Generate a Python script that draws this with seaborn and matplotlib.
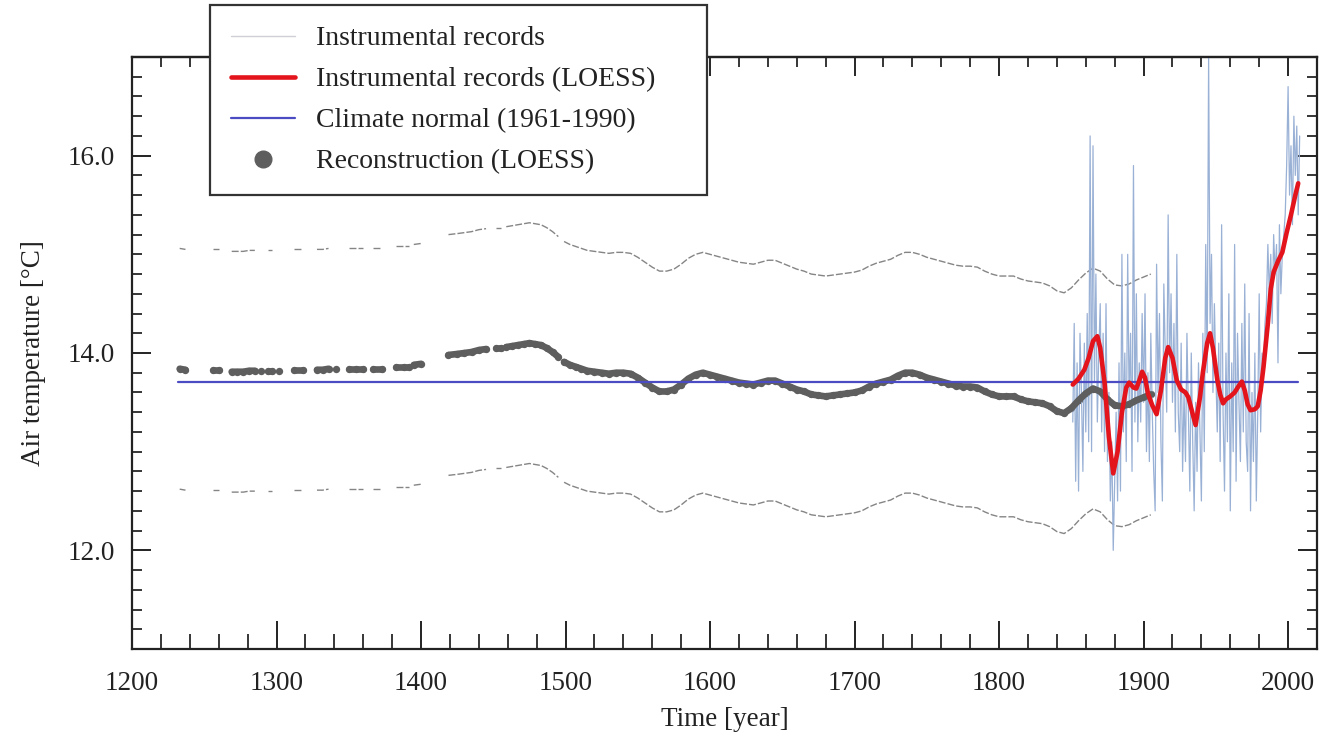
import numpy as np
import pandas as pd
import matplotlib
matplotlib.use("Agg")
import matplotlib.pyplot as plt
from matplotlib.lines import Line2D
from matplotlib.ticker import MultipleLocator, FormatStrFormatter, FixedLocator
import seaborn as sns

# ---------------- data ----------------
# Reconstruction (LOESS): segments separated by gaps in the record
recon_seg = ([0]*2 + [1]*2 + [2]*5 + [3] + [4]*2 + [5] + [6]*2 + [7]*3 + [8] + [9]*3 + [10]*2
             + [11]*3 + [12]*2 + [13]*6 + [14]*2 + [15]*10 + [16]*83)
recon_year = [1233, 1237,
              1256, 1260,
              1269, 1273, 1277, 1281, 1285,
              1289,
              1294, 1297,
              1302,
              1312, 1318,
              1328, 1332, 1336,
              1341,
              1350, 1355, 1360,
              1367, 1373,
              1383, 1388, 1392,
              1395, 1400,
              1419, 1425, 1430, 1435, 1440, 1445,
              1452, 1455,
              1459, 1463, 1467, 1471, 1475, 1479, 1483, 1487, 1491, 1495,
              1499, 1503, 1507, 1511, 1515, 1520, 1525, 1530, 1535, 1540, 1545, 1550, 1555, 1560,
              1565, 1570, 1575, 1580, 1585, 1590, 1595, 1600, 1605, 1610, 1615, 1620, 1625, 1630,
              1635, 1640, 1645, 1650, 1655, 1660, 1665, 1670, 1675, 1680, 1685, 1690, 1695, 1700,
              1705, 1710, 1715, 1720, 1725, 1730, 1735, 1740, 1745, 1750, 1755, 1760, 1765, 1770,
              1775, 1780, 1785, 1790, 1795, 1800, 1805, 1810, 1815, 1820, 1825, 1830, 1835, 1840,
              1845, 1850, 1855, 1860, 1865, 1870, 1875, 1880, 1885, 1890, 1895, 1900, 1905]
recon_temp = [13.84, 13.83,
              13.83, 13.83,
              13.81, 13.81, 13.81, 13.82, 13.82,
              13.82,
              13.82, 13.82,
              13.82,
              13.83, 13.83,
              13.83, 13.83, 13.84,
              13.84,
              13.84, 13.84, 13.84,
              13.84, 13.84,
              13.86, 13.86, 13.86,
              13.88, 13.89,
              13.98, 13.99, 14.00, 14.01, 14.03, 14.04,
              14.05, 14.05,
              14.06, 14.07, 14.08, 14.09, 14.10, 14.09, 14.08, 14.05, 14.01, 13.96,
              13.91, 13.88, 13.86, 13.84, 13.82, 13.81, 13.80, 13.79, 13.80, 13.80, 13.79, 13.75, 13.70, 13.65,
              13.61, 13.61, 13.63, 13.68, 13.74, 13.78, 13.80, 13.78, 13.76, 13.74, 13.72, 13.70, 13.69, 13.68,
              13.70, 13.72, 13.72, 13.69, 13.66, 13.63, 13.61, 13.58, 13.57, 13.56, 13.57, 13.58, 13.59, 13.60,
              13.62, 13.66, 13.69, 13.71, 13.73, 13.77, 13.80, 13.80, 13.78, 13.75, 13.73, 13.71, 13.69, 13.67,
              13.66, 13.66, 13.65, 13.61, 13.58, 13.56, 13.56, 13.56, 13.53, 13.51, 13.50, 13.49, 13.46, 13.41,
              13.39, 13.44, 13.52, 13.59, 13.64, 13.61, 13.53, 13.47, 13.46, 13.48, 13.52, 13.55, 13.58]
upper_temp = [15.06, 15.05,
              15.05, 15.05,
              15.03, 15.03, 15.03, 15.04, 15.04,
              15.04,
              15.04, 15.04,
              15.04,
              15.05, 15.05,
              15.05, 15.05, 15.06,
              15.06,
              15.06, 15.06, 15.06,
              15.06, 15.06,
              15.08, 15.08, 15.08,
              15.10, 15.11,
              15.20, 15.21, 15.22, 15.23, 15.25, 15.26,
              15.27, 15.27,
              15.28, 15.29, 15.30, 15.31, 15.32, 15.31, 15.30, 15.27, 15.23, 15.18,
              15.13, 15.10, 15.08, 15.06, 15.04, 15.03, 15.02, 15.01, 15.02, 15.02, 15.01, 14.97, 14.92, 14.87,
              14.83, 14.83, 14.85, 14.90, 14.96, 15.00, 15.02, 15.00, 14.98, 14.96, 14.94, 14.92, 14.91, 14.90,
              14.92, 14.94, 14.94, 14.91, 14.88, 14.85, 14.83, 14.80, 14.79, 14.78, 14.79, 14.80, 14.81, 14.82,
              14.84, 14.88, 14.91, 14.93, 14.95, 14.99, 15.02, 15.02, 15.00, 14.97, 14.95, 14.93, 14.91, 14.89,
              14.88, 14.88, 14.87, 14.83, 14.80, 14.78, 14.78, 14.78, 14.75, 14.73, 14.72, 14.71, 14.68, 14.63,
              14.61, 14.66, 14.74, 14.81, 14.86, 14.83, 14.75, 14.69, 14.68, 14.70, 14.74, 14.77, 14.80]
lower_temp = [12.62, 12.61,
              12.61, 12.61,
              12.59, 12.59, 12.59, 12.60, 12.60,
              12.60,
              12.60, 12.60,
              12.60,
              12.61, 12.61,
              12.61, 12.61, 12.62,
              12.62,
              12.62, 12.62, 12.62,
              12.62, 12.62,
              12.64, 12.64, 12.64,
              12.66, 12.67,
              12.76, 12.77, 12.78, 12.79, 12.81, 12.82,
              12.83, 12.83,
              12.84, 12.85, 12.86, 12.87, 12.88, 12.87, 12.86, 12.83, 12.79, 12.74,
              12.69, 12.66, 12.64, 12.62, 12.60, 12.59, 12.58, 12.57, 12.58, 12.58, 12.57, 12.53, 12.48, 12.43,
              12.39, 12.39, 12.41, 12.46, 12.52, 12.56, 12.58, 12.56, 12.54, 12.52, 12.50, 12.48, 12.47, 12.46,
              12.48, 12.50, 12.50, 12.47, 12.44, 12.41, 12.39, 12.36, 12.35, 12.34, 12.35, 12.36, 12.37, 12.38,
              12.40, 12.44, 12.47, 12.49, 12.51, 12.55, 12.58, 12.58, 12.56, 12.53, 12.51, 12.49, 12.47, 12.45,
              12.44, 12.44, 12.43, 12.39, 12.36, 12.34, 12.34, 12.34, 12.31, 12.29, 12.28, 12.27, 12.24, 12.19,
              12.17, 12.22, 12.30, 12.37, 12.42, 12.39, 12.31, 12.25, 12.24, 12.26, 12.30, 12.33, 12.36]

# Instrumental records (annual), 1851-2008
instr_year = list(range(1851, 2009))
instr_temp = [13.3, 14.3, 12.7, 13.9, 12.6, 14.2, 13.6, 12.8, 14.1, 13.2,
              14.4, 13.1, 16.2, 13.0, 16.1, 13.7, 14.8, 13.3, 14.0, 14.5,
              13.2, 14.2, 13.0, 14.5, 12.9, 13.6, 12.5, 13.1, 12.0, 12.7,
              13.4, 12.5, 13.9, 12.6, 15.0, 13.2, 14.0, 12.9, 15.0, 13.5,
              14.2, 12.8, 15.9, 13.3, 14.6, 13.1, 13.9, 13.3, 14.4, 13.5,
              14.6, 13.0, 13.8, 12.9, 14.2, 13.4, 12.8, 12.4, 14.9, 13.6,
              14.4, 13.1, 12.5, 14.7, 14.0, 13.4, 15.4, 13.8, 14.6, 13.5,
              14.3, 13.2, 15.0, 13.4, 13.0, 14.1, 12.8, 13.6, 12.9, 14.2,
              13.4, 12.6, 14.0, 13.1, 12.4, 13.5, 12.8, 13.9, 13.2, 12.5,
              14.2, 13.0, 15.1, 13.8, 17.0, 14.3, 15.0, 13.6, 14.5, 13.8,
              13.2, 14.1, 12.9, 15.3, 13.4, 12.6, 14.0, 13.1, 14.6, 12.4,
              13.9, 13.0, 15.1, 12.7, 14.2, 13.5, 12.9, 14.3, 13.2, 14.7,
              13.1, 12.8, 14.4, 12.4, 13.6, 12.9, 14.0, 12.5, 13.4, 14.6,
              13.2, 14.0, 13.9, 14.3, 14.5, 15.1, 14.6, 15.0, 14.3, 15.2,
              14.8, 15.1, 13.9, 15.3, 14.6, 15.0, 15.2, 15.4, 15.9, 16.7,
              15.6, 16.1, 15.3, 16.4, 15.8, 16.3, 15.4, 16.2]

# Instrumental records (LOESS)
loess_year = [1851, 1855, 1859, 1862, 1865, 1868, 1870, 1873, 1876, 1879, 1882, 1885, 1888, 1890,
              1893, 1895, 1897, 1899, 1901, 1903, 1906, 1909, 1912, 1915, 1917, 1920, 1923, 1926,
              1929, 1931, 1934, 1936, 1939, 1941, 1944, 1946, 1948, 1951, 1953, 1955, 1957, 1960,
              1963, 1966, 1968, 1970, 1972, 1974, 1977, 1979, 1981, 1983, 1986, 1988, 1990, 1993,
              1996, 1999, 2002, 2005, 2007]
loess_temp = [13.68, 13.74, 13.83, 13.95, 14.12, 14.17, 14.05, 13.70, 13.15, 12.78, 13.00, 13.40, 13.65, 13.70,
              13.65, 13.64, 13.72, 13.81, 13.75, 13.59, 13.47, 13.38, 13.62, 13.95, 14.06, 13.95, 13.72, 13.63,
              13.60, 13.55, 13.38, 13.27, 13.55, 13.80, 14.10, 14.20, 14.05, 13.73, 13.58, 13.49, 13.53, 13.56,
              13.60, 13.67, 13.71, 13.62, 13.48, 13.42, 13.43, 13.46, 13.62, 13.86, 14.30, 14.65, 14.82, 14.93,
              15.02, 15.22, 15.40, 15.60, 15.72]

# Climate normal (1961-1990)
normal_year = [1232, 2007]
normal_temp = [13.71, 13.71]

labels = ["Instrumental records", "Instrumental records (LOESS)",
          "Climate normal (1961-1990)", "Reconstruction (LOESS)"]

# ---------------- plot ----------------
sns.set_theme(style="ticks")
plt.rcParams['font.family'] = ['Liberation Serif', 'DejaVu Serif']

fig = plt.figure(figsize=(13.36, 7.33), dpi=100)
ax = fig.add_axes([132/1336, 1-649/733, (1317-132)/1336, (649-57)/733])

rec = pd.DataFrame({"year": recon_year, "temp": recon_temp, "upper": upper_temp,
                    "lower": lower_temp, "seg": recon_seg})
ins = pd.DataFrame({"year": instr_year, "temp": instr_temp})
loe = pd.DataFrame({"year": loess_year, "temp": loess_temp})
nor = pd.DataFrame({"year": normal_year, "temp": normal_temp})

gray_band = "#858585"
gray_rec = "#5e5e5e"
blue_instr = "#9ab1d6"
red = "#e3141b"
blue_norm = "#4b4bc4"

# uncertainty bands
for col in ["upper", "lower"]:
    sns.lineplot(data=rec, x="year", y=col, units="seg", estimator=None, ax=ax,
                 color=gray_band, lw=1.0, dashes=False, linestyle=(0, (5, 1.5)), legend=False)

# instrumental annual series
sns.lineplot(data=ins, x="year", y="temp", estimator=None, ax=ax, color=blue_instr, lw=0.9,
             legend=False)

# reconstruction
sns.lineplot(data=rec, x="year", y="temp", units="seg", estimator=None, ax=ax,
             color=gray_rec, lw=4.8, legend=False, solid_capstyle="round")
sns.scatterplot(data=rec, x="year", y="temp", ax=ax, color=gray_rec, s=28, linewidth=0,
                legend=False)

# climate normal
sns.lineplot(data=nor, x="year", y="temp", estimator=None, ax=ax, color=blue_norm, lw=1.6,
             legend=False)

# instrumental LOESS
sns.lineplot(data=loe, x="year", y="temp", estimator=None, ax=ax, color=red, lw=3.3,
             legend=False, solid_capstyle="round", solid_joinstyle="round")

ax.set_xlim(1200, 2020)
ax.set_ylim(11, 17)
ax.xaxis.set_major_locator(MultipleLocator(100))
ax.xaxis.set_minor_locator(MultipleLocator(20))
ax.yaxis.set_major_locator(FixedLocator([12, 14, 16]))
ax.yaxis.set_minor_locator(MultipleLocator(0.2))
ax.yaxis.set_major_formatter(FormatStrFormatter("%.1f"))

for s in ax.spines.values():
    s.set_visible(True)
    s.set_linewidth(1.6)
    s.set_color("#222222")

ax.tick_params(axis="x", which="major", direction="in", length=20, width=1.4,
               top=False, bottom=True, labelsize=19.5, pad=16, colors="#222222")
ax.tick_params(axis="x", which="minor", direction="in", length=11, width=1.3,
               top=False, bottom=True)
ax.tick_params(axis="y", which="major", direction="in", length=14, width=1.4,
               left=True, right=True, labelsize=19.5, pad=12, colors="#222222")
ax.tick_params(axis="y", which="minor", direction="in", length=7, width=1.3,
               left=True, right=True)

sec = ax.secondary_xaxis("top")
sec.xaxis.set_major_locator(MultipleLocator(100))
sec.xaxis.set_minor_locator(MultipleLocator(20))
sec.tick_params(which="major", direction="in", length=14, width=1.4, labeltop=False)
sec.tick_params(which="minor", direction="in", length=7, width=1.3)
sec.spines["top"].set_linewidth(1.6)

ax.set_xlabel("Time [year]", fontsize=19.5, labelpad=8, color="#222222")
ax.set_ylabel("Air temperature [°C]", fontsize=19.5, labelpad=16, color="#222222")

handles = [Line2D([], [], color="#cfcfd6", lw=1.0),
           Line2D([], [], color=red, lw=3.3),
           Line2D([], [], color=blue_norm, lw=1.6),
           Line2D([], [], color=gray_rec, lw=0, marker="o", markersize=12)]
leg_w = (707 - 210) / 1336
leg_h = (197 - 5) / 733
leg = fig.legend(handles, labels, loc="upper left",
                 bbox_to_anchor=(210/1336, 1-197/733, leg_w, leg_h), mode="expand",
                 frameon=True, fancybox=False, fontsize=20, handlelength=2.3,
                 handletextpad=0.75, labelspacing=0.56, borderpad=0.75, borderaxespad=0,
                 framealpha=1)
leg.get_frame().set_edgecolor("#333333")
leg.get_frame().set_linewidth(1.6)
for t in leg.get_texts():
    t.set_color("#222222")

fig.savefig("out.png", dpi=100)
